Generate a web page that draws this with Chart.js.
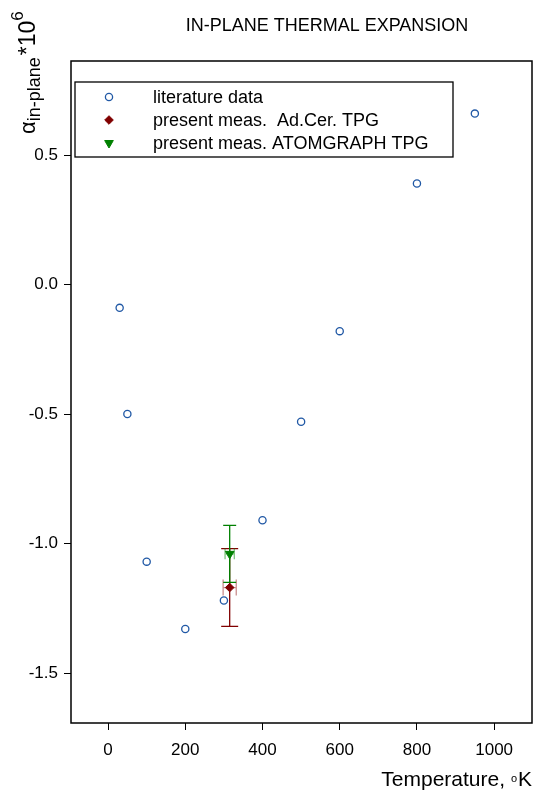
<!DOCTYPE html>
<html>
<head>
<meta charset="utf-8">
<script src="https://cdn.jsdelivr.net/npm/chart.js@4.4.0/dist/chart.umd.min.js"></script>
<style>
  html, body { margin: 0; padding: 0; background: #fff; }
  #wrap { position: relative; width: 538px; height: 802px; }
</style>
</head>
<body>
<div id="wrap"><canvas id="graficoExpansion"></canvas></div>
<script>
// datos de literatura
var litTemp = [30, 50, 100, 200, 300, 400, 500, 600, 800, 950];
var litAlpha = [-0.09, -0.50, -1.07, -1.33, -1.22, -0.91, -0.53, -0.18, 0.39, 0.66];

// medidas presentes (con barras de error)
var adcerTemp = [315];
var adcerAlpha = [-1.17];
var adcerTempErr = [17];
var adcerAlphaErr = [0.15];

var atomTemp = [315];
var atomAlpha = [-1.04];
var atomTempErr = [12];
var atomAlphaErr = [0.11];

var xTicks = [0, 200, 400, 600, 800, 1000];
var yTicks = [-1.5, -1.0, -0.5, 0.0, 0.5];
var seriesLabels = ['literature data', 'present meas.  Ad.Cer. TPG', 'present meas. ATOMGRAPH TPG'];

var FONT = '"Liberation Sans", Arial, sans-serif';
var azul = 'rgb(32, 88, 165)';
var rojo = 'rgb(128, 0, 0)';
var verde = 'rgb(0, 128, 0)';

function toPoints(xs, ys) {
  return xs.map(function(x, i) { return { x: x, y: ys[i] }; });
}

// barras de error dibujadas con las escalas del grafico
var errorBars = {
  id: 'errorBars',
  beforeDatasetsDraw: function(chart) {
    var ctx = chart.ctx;
    var xs = chart.scales.x, ys = chart.scales.y;
    chart.data.datasets.forEach(function(ds) {
      if (!ds.yErr) return;
      ds.data.forEach(function(p, i) {
        var px = xs.getPixelForValue(p.x);
        var py = ys.getPixelForValue(p.y);
        var yTop = ys.getPixelForValue(p.y + ds.yErr[i]);
        var yBot = ys.getPixelForValue(p.y - ds.yErr[i]);
        var xL = xs.getPixelForValue(p.x - ds.xErr[i]);
        var xR = xs.getPixelForValue(p.x + ds.xErr[i]);
        ctx.save();
        // horizontal (mas claro)
        ctx.strokeStyle = ds.errLight;
        ctx.lineWidth = 1.3;
        ctx.beginPath();
        ctx.moveTo(xL, py); ctx.lineTo(xR, py);
        ctx.moveTo(xL, py - ds.capH); ctx.lineTo(xL, py + ds.capH);
        ctx.moveTo(xR, py - ds.capH); ctx.lineTo(xR, py + ds.capH);
        ctx.stroke();
        // vertical
        ctx.strokeStyle = ds.borderColor;
        ctx.beginPath();
        ctx.moveTo(px, yTop); ctx.lineTo(px, yBot);
        ctx.moveTo(px - ds.capW, yTop); ctx.lineTo(px + ds.capW, yTop);
        ctx.moveTo(px - ds.capW, yBot); ctx.lineTo(px + ds.capW, yBot);
        ctx.stroke();
        ctx.restore();
      });
    });
  }
};

// marco, titulo, etiquetas de ejes y leyenda
var decoraciones = {
  id: 'decoraciones',
  afterDraw: function(chart) {
    var ctx = chart.ctx;
    var a = chart.chartArea;
    ctx.save();
    ctx.strokeStyle = '#000';
    ctx.lineWidth = 1.5;
    ctx.strokeRect(a.left, a.top, a.right - a.left, a.bottom - a.top);

    // titulo
    ctx.fillStyle = '#000';
    ctx.font = '18px ' + FONT;
    ctx.textAlign = 'center';
    ctx.textBaseline = 'alphabetic';
    ctx.fillText('IN-PLANE THERMAL EXPANSION', 327, 31);

    // titulo eje x: Temperature, °K
    ctx.textAlign = 'left';
    ctx.font = '21px ' + FONT;
    var wK = ctx.measureText('K').width;
    ctx.font = '11px ' + FONT;
    var wo = ctx.measureText('o').width;
    ctx.font = '21px ' + FONT;
    var wT = ctx.measureText('Temperature, ').width;
    var xEnd = 532;
    var base = 786;
    ctx.fillText('K', xEnd - wK, base);
    ctx.font = '11px ' + FONT;
    ctx.fillText('o', xEnd - wK - wo - 1, base - 4);
    ctx.font = '21px ' + FONT;
    ctx.fillText('Temperature, ', xEnd - wK - wo - 1 - wT, base);

    // titulo eje y: alpha_in-plane *10^6 (rotado)
    ctx.translate(35, 134);
    ctx.rotate(-Math.PI / 2);
    var x = 0;
    ctx.font = '22px ' + FONT;
    ctx.fillText('\u03B1', x, 0);
    x += ctx.measureText('\u03B1').width;
    ctx.font = '18px ' + FONT;
    ctx.fillText('in-plane', x, 5);
    x += ctx.measureText('in-plane').width + 2;
    ctx.font = '23px ' + FONT;
    ctx.fillText('*10', x, 0);
    x += ctx.measureText('*10').width;
    ctx.font = '17px ' + FONT;
    ctx.fillText('6', x, -12);
    ctx.setTransform(1, 0, 0, 1, 0, 0);

    // leyenda
    ctx.lineWidth = 1.3;
    ctx.strokeStyle = '#000';
    ctx.strokeRect(75, 82, 378, 75);
    ctx.font = '18px ' + FONT;
    ctx.textBaseline = 'middle';
    var filas = [97, 120, 143];
    chart.data.datasets.forEach(function(ds, i) {
      ctx.save();
      ctx.fillStyle = ds.backgroundColor;
      ctx.strokeStyle = ds.borderColor;
      ctx.lineWidth = ds.borderWidth;
      Chart.helpers.drawPoint(ctx, {
        pointStyle: ds.pointStyle,
        radius: ds.pointRadius,
        rotation: ds.rotation || 0,
        borderWidth: ds.borderWidth
      }, 109, filas[i]);
      ctx.restore();
      ctx.fillStyle = '#000';
      ctx.fillText(ds.label, 153, filas[i] + 1);
    });
    ctx.restore();
  }
};

var GraficoExpansion = new Chart(document.getElementById('graficoExpansion'), {
  type: 'scatter',
  data: {
    datasets: [{
      label: seriesLabels[0],
      data: toPoints(litTemp, litAlpha),
      pointStyle: 'circle',
      pointRadius: 3.6,
      borderWidth: 1.3,
      borderColor: azul,
      backgroundColor: '#fff'
    }, {
      label: seriesLabels[1],
      data: toPoints(adcerTemp, adcerAlpha),
      pointStyle: 'rectRot',
      pointRadius: 4.3,
      borderWidth: 1,
      borderColor: rojo,
      backgroundColor: rojo,
      yErr: adcerAlphaErr,
      xErr: adcerTempErr,
      errLight: 'rgba(150, 30, 30, 0.5)',
      capW: 8.5,
      capH: 8
    }, {
      label: seriesLabels[2],
      data: toPoints(atomTemp, atomAlpha),
      pointStyle: 'triangle',
      pointRadius: 5,
      rotation: 180,
      pointRotation: 180,
      borderWidth: 1,
      borderColor: verde,
      backgroundColor: verde,
      yErr: atomAlphaErr,
      xErr: atomTempErr,
      errLight: 'rgba(0, 140, 0, 0.5)',
      capW: 6.5,
      capH: 5.5
    }]
  },
  options: {
    responsive: true,
    maintainAspectRatio: false,
    animation: false,
    layout: { padding: { top: 61, right: 5, left: 0, bottom: 0 } },
    plugins: {
      legend: { display: false },
      tooltip: { enabled: false }
    },
    scales: {
      x: {
        type: 'linear',
        min: -96,
        max: 1098,
        afterBuildTicks: function(scale) {
          scale.ticks = xTicks.map(function(v) { return { value: v }; });
        },
        afterFit: function(scale) { scale.height = 79; },
        grid: { drawOnChartArea: false, drawTicks: true, tickLength: 7, color: '#000', lineWidth: 1 },
        border: { display: false },
        ticks: {
          color: '#000',
          font: { family: FONT, size: 17 },
          padding: 10,
          maxRotation: 0,
          callback: function(v) { return String(v); }
        }
      },
      y: {
        type: 'linear',
        min: -1.693,
        max: 0.863,
        afterBuildTicks: function(scale) {
          scale.ticks = yTicks.map(function(v) { return { value: v }; });
        },
        afterFit: function(scale) { scale.width = 71; },
        grid: { drawOnChartArea: false, drawTicks: true, tickLength: 7, color: '#000', lineWidth: 1 },
        border: { display: false },
        ticks: {
          color: '#000',
          font: { family: FONT, size: 17 },
          padding: 6,
          callback: function(v) { return Number(v).toFixed(1); }
        }
      }
    }
  },
  plugins: [errorBars, decoraciones]
});
</script>
</body>
</html>
